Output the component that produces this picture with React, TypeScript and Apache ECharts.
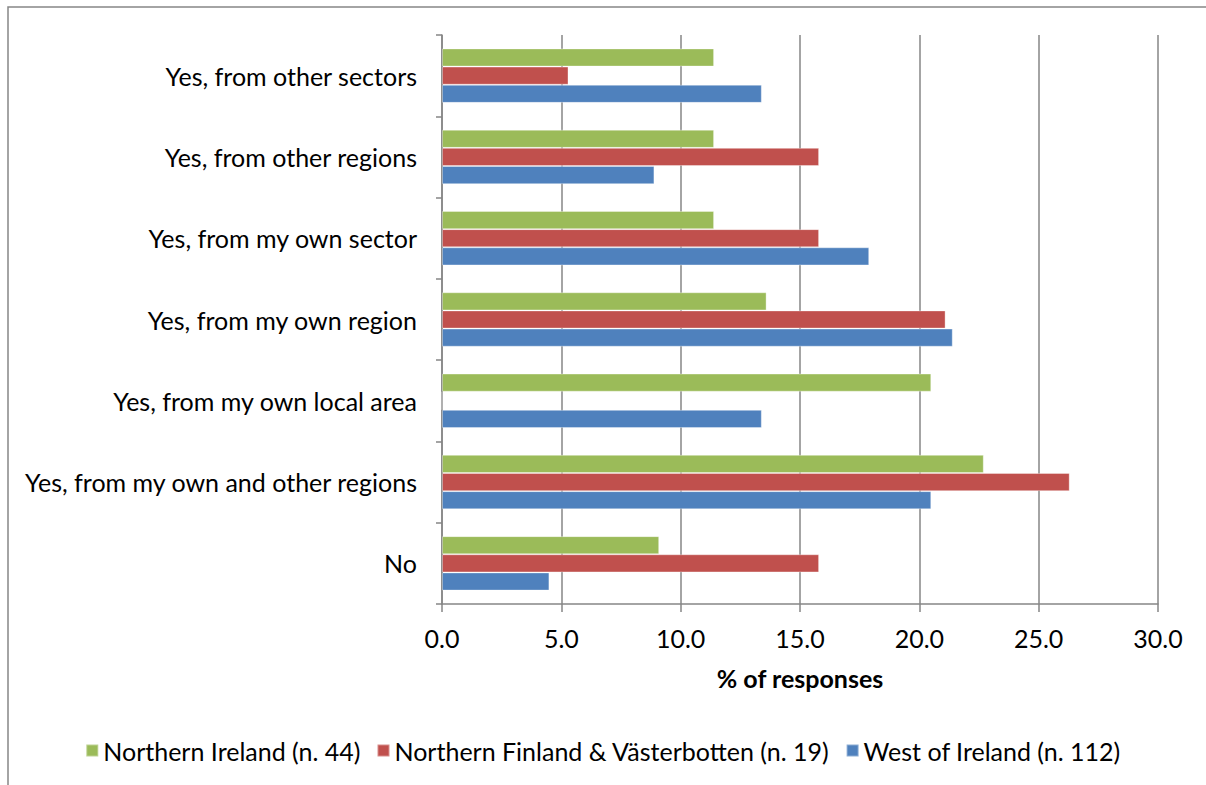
import React, { useEffect, useRef } from "react";
import * as echarts from "echarts";

const categories = [
  "No",
  "Yes, from my own and other regions",
  "Yes, from my own local area",
  "Yes, from my own region",
  "Yes, from my own sector",
  "Yes, from other regions",
  "Yes, from other sectors",
];

const northernIreland = [9.1, 22.7, 20.5, 13.6, 11.4, 11.4, 11.4];
const northernFinland = [15.8, 26.3, 0, 21.1, 15.8, 15.8, 5.3];
const westOfIreland = [4.5, 20.5, 13.4, 21.4, 17.9, 8.9, 13.4];

const seriesNames = [
  "Northern Ireland (n. 44)",
  "Northern Finland & Västerbotten (n. 19)",
  "West of Ireland (n. 112)",
];
const colors = ["#9BBB59", "#C0504D", "#4F81BD"];

const FONT = "Lato";
const FS = 25;

export default function App() {
  const ref = useRef<HTMLDivElement>(null);
  useEffect(() => {
    if (!ref.current) return;
    const chart = echarts.init(ref.current, null, { renderer: "svg" });
    const data = [northernIreland, northernFinland, westOfIreland];
    chart.setOption({
      animation: false,
      backgroundColor: "#fff",
      textStyle: { fontFamily: FONT },
      graphic: [
        {
          type: "rect",
          shape: { x: 0, y: 0, width: 1300, height: 900 },
          x: 8,
          y: 7,
          style: { fill: "none", stroke: "#868686", lineWidth: 1.5 },
          silent: true,
        },
      ],
      grid: { left: 442, right: 48, top: 35, bottom: 181, containLabel: false },
      legend: {
        top: 733,
        left: "center",
        icon: "rect",
        itemWidth: 12,
        itemHeight: 12,
        itemGap: 16,
        textStyle: { fontFamily: FONT, fontSize: FS, color: "#000" },
        data: seriesNames,
      },
      xAxis: {
        type: "value",
        min: 0,
        max: 30,
        interval: 5,
        name: "% of responses",
        nameLocation: "middle",
        nameGap: 61,
        nameTextStyle: { fontFamily: FONT, fontSize: FS, fontWeight: "bold", color: "#000" },
        axisLine: { show: true, lineStyle: { color: "#868686", width: 1.5 } },
        axisTick: { show: true, length: 8, lineStyle: { color: "#868686", width: 1.5 } },
        axisLabel: {
          color: "#000",
          fontSize: FS,
          fontFamily: FONT,
          margin: 21,
          formatter: (v: number) => v.toFixed(1),
        },
        splitLine: { show: true, lineStyle: { color: "#868686", width: 1.5 } },
      },
      yAxis: {
        type: "category",
        data: categories,
        axisLine: { show: true, lineStyle: { color: "#868686", width: 1.5 } },
        axisTick: { show: true, length: 6, lineStyle: { color: "#868686", width: 1.5 } },
        axisLabel: { color: "#000", fontSize: FS, fontFamily: FONT, margin: 25 },
        splitLine: { show: false },
      },
      series: seriesNames.map((name, i) => ({
        name,
        type: "bar",
        data: data[i],
        barGap: "0%",
        barCategoryGap: "33%",
        itemStyle: { color: colors[i], borderColor: "rgba(255,255,255,0.35)", borderWidth: 1 },
      })),
    });
    return () => chart.dispose();
  }, []);
  return <div ref={ref} style={{ width: 1206, height: 785, position: "absolute", left: 0, top: 0 }} />;
}
